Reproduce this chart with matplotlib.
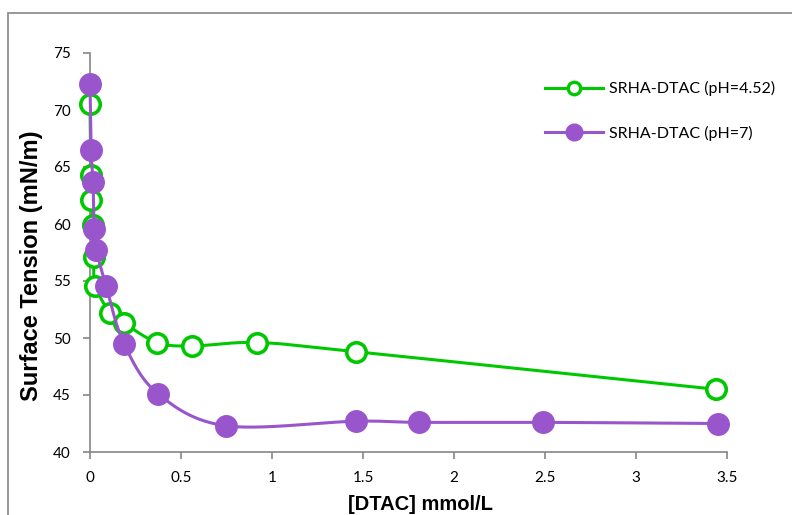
import numpy as np
import matplotlib
matplotlib.use("Agg")
import matplotlib.pyplot as plt
from matplotlib.lines import Line2D
from matplotlib.patches import Rectangle

# ---- data ----
green_x = [0.0, 0.004, 0.007, 0.015, 0.02, 0.03, 0.11, 0.187, 0.37, 0.56, 0.92, 1.46, 3.44]
green_y = [70.5, 64.3, 62.1, 59.9, 57.1, 54.6, 52.2, 51.3, 49.6, 49.3, 49.6, 48.8, 45.5]
purple_x = [0.0, 0.006, 0.017, 0.022, 0.035, 0.088, 0.187, 0.374, 0.747, 1.46, 1.81, 2.49, 3.45]
purple_y = [72.3, 66.5, 63.7, 59.6, 57.7, 54.6, 49.5, 45.1, 42.3, 42.7, 42.6, 42.6, 42.5]
green_label = "SRHA-DTAC (pH=4.52)"
purple_label = "SRHA-DTAC (pH=7)"
x_ticks = [0, 0.5, 1, 1.5, 2, 2.5, 3, 3.5]
x_ticklabels = ["0", "0.5", "1", "1.5", "2", "2.5", "3", "3.5"]
y_ticks = [40, 45, 50, 55, 60, 65, 70, 75]
xlabel = "[DTAC] mmol/L"
ylabel = "Surface Tension (mN/m)"

GREEN = "#00C800"
PURPLE = "#9955CC"
GRAY = "#868686"

W, H = 792, 515
fig = plt.figure(figsize=(W / 100, H / 100), dpi=100)
ax = fig.add_axes([90 / W, 1 - 452 / H, (727 - 90) / W, (452 - 53) / H])
ax.set_xlim(0, 3.5)
ax.set_ylim(40, 75)

# outer chart border
fig.patches.append(Rectangle((8 / W, -0.1), 1.2, 1 - 13 / H + 0.1, transform=fig.transFigure,
                             fill=False, edgecolor=GRAY, linewidth=1.2, clip_on=False))


def smooth(xs, ys, n=30):
    pts = ax.transData.transform(np.column_stack([xs, ys]))
    P = np.vstack([pts[0], pts, pts[-1]])
    out = []
    for i in range(1, len(P) - 2):
        p0, p1, p2, p3 = P[i - 1], P[i], P[i + 1], P[i + 2]
        c1 = p1 + (p2 - p0) / 6.0
        c2 = p2 - (p3 - p1) / 6.0
        t = np.linspace(0, 1, n)[:, None]
        seg = ((1 - t) ** 3) * p1 + 3 * ((1 - t) ** 2) * t * c1 + 3 * (1 - t) * t ** 2 * c2 + t ** 3 * p2
        out.append(seg)
    out = np.vstack(out)
    d = ax.transData.inverted().transform(out)
    return d[:, 0], d[:, 1]


gx, gy = smooth(green_x, green_y)
px, py = smooth(purple_x, purple_y)
ax.plot(gx, gy, color=GREEN, lw=2.2, zorder=2, clip_on=False)
ax.plot(green_x, green_y, linestyle="none", marker="o", ms=14, mfc="white", mec=GREEN, mew=2.6,
        zorder=3, clip_on=False)
ax.plot(px, py, color=PURPLE, lw=2.2, zorder=4, clip_on=False)
ax.plot(purple_x, purple_y, linestyle="none", marker="o", ms=15.5, mfc=PURPLE, mec=PURPLE, mew=1,
        zorder=5, clip_on=False)

for s in ["top", "right"]:
    ax.spines[s].set_visible(False)
for s in ["left", "bottom"]:
    ax.spines[s].set_color(GRAY)
    ax.spines[s].set_linewidth(1.2)

tickfont = dict(family=["Lato", "DejaVu Sans"], size=11)
ax.set_xticks(x_ticks)
ax.set_xticklabels(x_ticklabels, **tickfont)
ax.set_yticks(y_ticks)
ax.set_yticklabels([str(v) for v in y_ticks], **tickfont)
ax.tick_params(direction="out", length=5, color=GRAY, width=1.2, pad=9)

ax.set_xlabel(xlabel, family=["Liberation Sans", "DejaVu Sans"], fontsize=14.5,
              fontweight="bold")
ax.xaxis.set_label_coords(0.5 - 0 / (727 - 90) + (420 - 408.5) / (727 - 90), (452 - 495) / (452 - 53))
ax.set_ylabel(ylabel, family=["Liberation Sans", "DejaVu Sans"], fontsize=17,
              fontweight="bold")
ax.yaxis.set_label_coords(-47 / (727 - 90), (452 - 266) / (452 - 53))

handles = [
    Line2D([], [], color=GREEN, lw=2.2, marker="o", ms=9, mfc="white", mec=GREEN, mew=2.4),
    Line2D([], [], color=PURPLE, lw=2.2, marker="o", ms=12, mfc=PURPLE, mec=PURPLE),
]
leg = fig.legend(handles, [green_label, purple_label], loc="upper left",
                 bbox_to_anchor=(531 / W, 1 - 67 / H), frameon=False, handlelength=3.6,
                 handletextpad=0.4, labelspacing=1.85,
                 prop=dict(family=["Lato", "DejaVu Sans"], size=11.5))

fig.savefig("out.png", dpi=100)
